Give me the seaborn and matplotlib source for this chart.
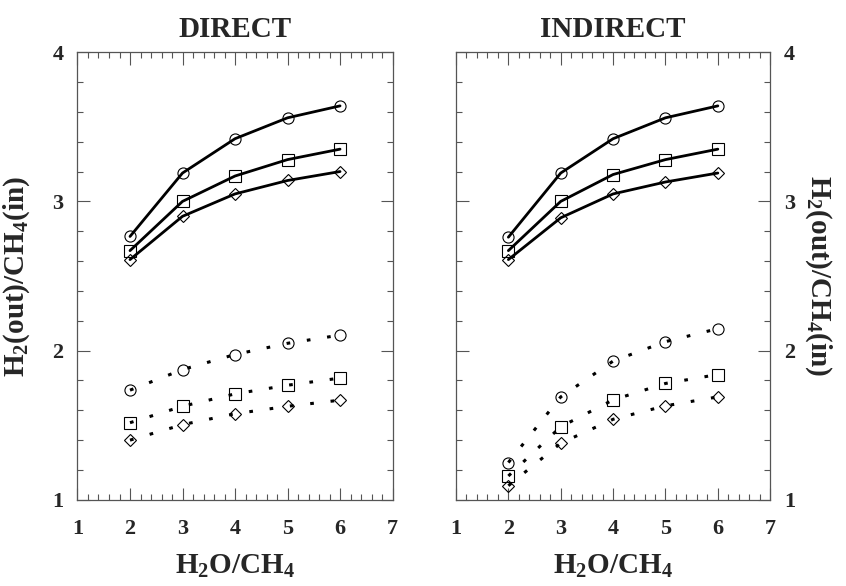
import matplotlib
matplotlib.use("Agg")
import matplotlib.pyplot as plt
from matplotlib.ticker import MultipleLocator
import seaborn as sns
import pandas as pd

# ---- data ----
ratio = [2, 3, 4, 5, 6]

direct_circle_solid = [2.765, 3.19, 3.42, 3.56, 3.64]
direct_square_solid = [2.67, 3.00, 3.17, 3.28, 3.35]
direct_diamond_solid = [2.61, 2.90, 3.05, 3.14, 3.20]
direct_circle_dot = [1.735, 1.873, 1.974, 2.049, 2.104]
direct_square_dot = [1.517, 1.627, 1.71, 1.768, 1.816]
direct_diamond_dot = [1.40, 1.504, 1.577, 1.627, 1.668]

indirect_circle_solid = [2.76, 3.19, 3.42, 3.56, 3.64]
indirect_square_solid = [2.67, 3.00, 3.18, 3.28, 3.35]
indirect_diamond_solid = [2.61, 2.89, 3.05, 3.13, 3.19]
indirect_circle_dot = [1.25, 1.69, 1.93, 2.06, 2.147]
indirect_square_dot = [1.16, 1.49, 1.67, 1.78, 1.84]
indirect_diamond_dot = [1.095, 1.38, 1.54, 1.63, 1.69]

panel_titles = ["DIRECT", "INDIRECT"]
xticks = [1, 2, 3, 4, 5, 6, 7]
yticks = [1, 2, 3, 4]
ylabel = "H$_2$(out)/CH$_4$(in)"
xlabel = "H$_2$O/CH$_4$"

sns.set_style("ticks")
plt.rcParams["font.family"] = ["Liberation Serif", "DejaVu Serif"]
plt.rcParams["font.weight"] = "bold"
plt.rcParams["mathtext.default"] = "regular"

fig = plt.figure(figsize=(8.46, 5.86), dpi=100)
ax_l = fig.add_axes([0.0916, 0.147, 0.3724, 0.764])
ax_r = fig.add_axes([0.539, 0.147, 0.3714, 0.764])

panels = [
    (ax_l, [direct_circle_solid, direct_square_solid, direct_diamond_solid],
     [direct_circle_dot, direct_square_dot, direct_diamond_dot]),
    (ax_r, [indirect_circle_solid, indirect_square_solid, indirect_diamond_solid],
     [indirect_circle_dot, indirect_square_dot, indirect_diamond_dot]),
]
markers = ["o", "s", "D"]
msizes = [8, 8, 6]

for i, (ax, solids, dots) in enumerate(panels):
    for vals, m, ms in zip(solids, markers, msizes):
        df = pd.DataFrame({"x": ratio, "y": vals})
        sns.lineplot(data=df, x="x", y="y", ax=ax, color="black", lw=2.0,
                     marker=m, markersize=ms, mfc="none", mec="black", mew=0.8)
    for vals, m, ms in zip(dots, markers, msizes):
        df = pd.DataFrame({"x": ratio, "y": vals})
        sns.lineplot(data=df, x="x", y="y", ax=ax, color="black", lw=2.2,
                     linestyle=(0, (1.2, 5.5)), dash_capstyle="butt",
                     marker=m, markersize=ms, mfc="none", mec="black", mew=0.8)
    ax.set_xlim(1, 7)
    ax.set_ylim(1, 4)
    ax.set_xticks(xticks)
    ax.set_yticks(yticks)
    ax.xaxis.set_minor_locator(MultipleLocator(0.2))
    ax.yaxis.set_minor_locator(MultipleLocator(0.2))
    ax.tick_params(which="both", direction="in", top=True, right=True,
                   left=True, bottom=True, labelsize=16, width=0.8,
                   color="#555555")
    ax.tick_params(axis="x", which="both", pad=14)
    ax.tick_params(axis="y", which="both", pad=10)
    ax.tick_params(which="major", length=9)
    ax.tick_params(which="minor", length=4.5)
    for s in ax.spines.values():
        s.set_linewidth(0.9)
        s.set_color("#555555")
    for lab in ax.get_xticklabels() + ax.get_yticklabels():
        lab.set_fontweight("bold")
    ax.set_title(panel_titles[i], fontsize=21, fontweight="bold", pad=11)
    ax.set_xlabel(xlabel, fontsize=21, fontweight="bold", labelpad=10)
    ax.set_ylabel(ylabel, fontsize=21, fontweight="bold")

ax_l.yaxis.set_label_coords(-0.145, 0.5)
ax_r.tick_params(labelleft=False, labelright=True)
ax_r.yaxis.set_label_position("right")
ax_r.set_ylabel(ylabel, fontsize=21, fontweight="bold", rotation=270,
                labelpad=28)

fig.savefig("out.png", dpi=100)
